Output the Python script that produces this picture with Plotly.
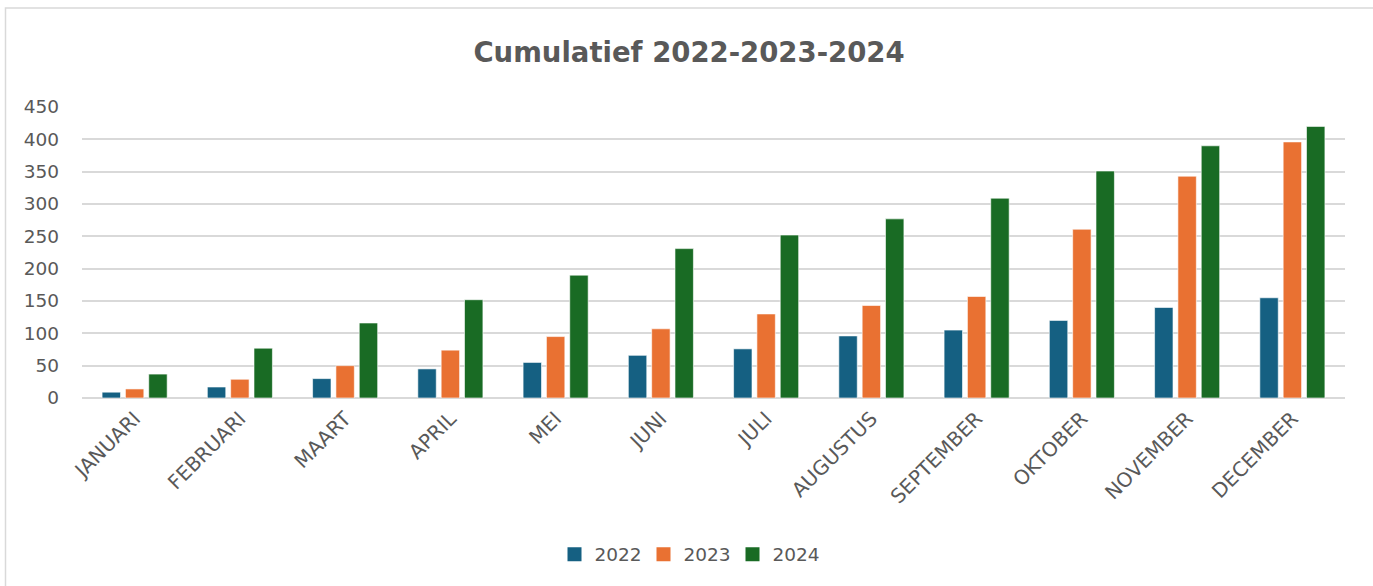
import plotly.graph_objects as go

months = ["JANUARI", "FEBRUARI", "MAART", "APRIL", "MEI", "JUNI", "JULI",
          "AUGUSTUS", "SEPTEMBER", "OKTOBER", "NOVEMBER", "DECEMBER"]
v2022 = [9, 17, 30, 45, 55, 66, 76, 96, 105, 120, 140, 155]
v2023 = [14, 29, 50, 74, 95, 107, 130, 143, 157, 261, 343, 396]
v2024 = [37, 77, 116, 152, 190, 231, 252, 277, 309, 351, 390, 420]
series_names = ["2022", "2023", "2024"]
colors = ["#156082", "#E97132", "#196B24"]

W, H = 1373, 586
L, R, T, B = 82, 28, 107, 188
pw, ph = W - L - R, H - T - B

fig = go.Figure()
for name, vals, col in zip(series_names, [v2022, v2023, v2024], colors):
    fig.add_trace(go.Bar(x=months, y=vals, name=name, showlegend=False,
                         marker=dict(color=col, line=dict(color="rgba(255,255,255,0.6)", width=1))))
# legend entries with larger square symbols
for name, col in zip(series_names, colors):
    fig.add_trace(go.Scatter(x=[None], y=[None], name=name, mode="markers",
                             marker=dict(symbol="square", size=14, color=col)))

font_family = "DejaVu Sans"
txt = "#595959"

fig.update_layout(
    width=W, height=H,
    margin=dict(l=L, r=R, t=T, b=B),
    paper_bgcolor="white", plot_bgcolor="white",
    barmode="group", bargap=0.335, bargroupgap=0.21,
    font=dict(family=font_family, size=18.5, color=txt),
    title=dict(text="<b>Cumulatief 2022-2023-2024</b>", x=(689 - L) / pw, xref="paper",
               xanchor="center", y=1 - 52 / H, yanchor="middle",
               font=dict(family=font_family, size=27.5, color=txt)),
    showlegend=True,
    legend=dict(orientation="h", x=(688 - L) / pw, xanchor="center",
                y=(398.3 - 555) / ph, yanchor="middle",
                font=dict(size=18.5, color=txt), itemwidth=30, traceorder="normal",
                entrywidth=44, entrywidthmode="pixels"),
    xaxis=dict(tickangle=-45, showgrid=False, showline=False, ticks="",
               tickfont=dict(size=20, color=txt), ticklabelstandoff=4),
    yaxis=dict(range=[0, 450], dtick=50, showgrid=True, gridcolor="#d9d9d9", gridwidth=1.5,
               zeroline=True, zerolinecolor="#d9d9d9", zerolinewidth=1.5,
               showline=False, ticks="", tickfont=dict(size=18.5, color=txt),
               ticklabelstandoff=22),
    shapes=[dict(type="rect", xref="paper", yref="paper",
                 x0=(5.5 - L) / pw, x1=(W + 20 - L) / pw,
                 y0=(T + ph - (H + 20)) / ph, y1=1 + (T - 8) / ph,
                 line=dict(color="#d9d9d9", width=1.5), fillcolor="rgba(0,0,0,0)", layer="below")],
)

fig.write_html("out.html", config={"displayModeBar": False},
               post_script="document.body.style.margin='0';")
